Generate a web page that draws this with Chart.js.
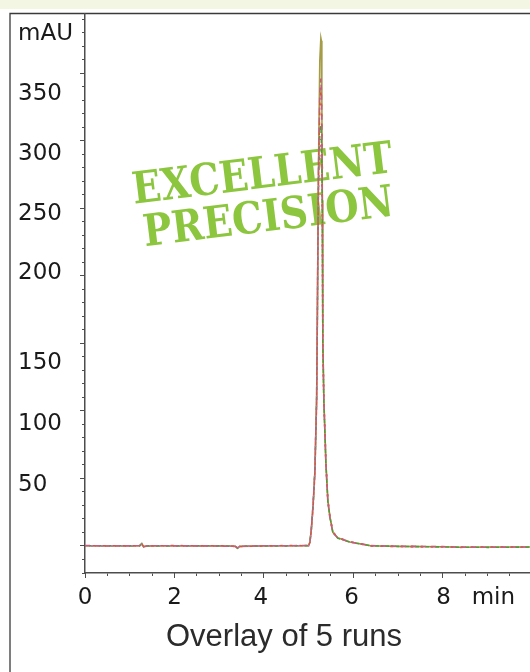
<!DOCTYPE html>
<html><head><meta charset="utf-8">
<script src="https://cdn.jsdelivr.net/npm/chart.js@4.4.1/dist/chart.umd.min.js"></script>
<style>html,body{margin:0;padding:0;background:#fff;overflow:hidden}#wrap{width:530px;height:672px;position:relative}</style>
</head><body><div id="wrap"><canvas id="c" width="530" height="672"></canvas></div>
<script>
// ---- data ----
const time = [0, 0.5, 1.0, 1.22, 1.27, 1.31, 1.4, 2.0, 2.5, 3.0, 3.36, 3.41, 3.46, 4.0, 4.5, 5.0,
  5.03, 5.06, 5.10, 5.14, 5.18, 5.20, 5.22, 5.25, 5.274, 5.285, 5.296, 5.307, 5.318, 5.341, 5.363, 5.386,
  5.43, 5.475, 5.542, 5.65, 5.92, 6.06, 6.25, 6.39, 7.0, 8.0, 8.4, 9.0, 9.95];
const run1 = [0.2, 0.1, 0.2, 0.3, 1.8, -0.6, 0.1, 0.2, 0.0, 0.1, -0.2, -1.6, -0.3, 0.1, 0.2, 0.3,
  3, 12, 30, 55, 110, 190, 280, 359, 376, 374, 329, 256, 152, 108, 86, 62,
  34, 22, 10, 6, 3, 2.2, 1.0, 0.2, -0.3, -0.6, -0.9, -0.8, -0.8];
const run2 = [0.3, 0.0, 0.1, 0.2, 1.5, -0.4, 0.2, 0.1, 0.1, 0.0, -0.3, -1.4, -0.2, 0.2, 0.1, 0.4,
  3.2, 12.5, 31, 56, 111, 191, 275, 335, 346, 338, 310, 250, 150, 107, 85, 61,
  33, 21, 10, 6, 3, 2.1, 1.1, 0.3, -0.2, -0.5, -0.8, -0.9, -0.7];
const run3 = [0.1, 0.2, 0.0, 0.3, 1.6, -0.5, 0.0, 0.3, 0.1, 0.2, -0.1, -1.5, -0.4, 0.0, 0.3, 0.2,
  2.8, 11.5, 29, 54, 109, 188, 272, 328, 338, 331, 305, 247, 151, 108, 86, 62,
  34, 22, 10.5, 6.2, 3.1, 2.3, 0.9, 0.1, -0.4, -0.6, -1.0, -0.8, -0.9];
const run4 = [0.2, 0.2, 0.1, 0.1, 1.7, -0.7, 0.1, 0.0, 0.2, 0.1, -0.2, -1.7, -0.3, 0.1, 0.1, 0.3,
  3.1, 12.2, 30, 55, 110, 187, 268, 305, 312, 300, 285, 240, 149, 106, 85, 61,
  33, 21.5, 10, 5.8, 2.9, 2.0, 1.0, 0.2, -0.3, -0.7, -0.9, -1.0, -0.8];
const run5 = [0.1, 0.1, 0.2, 0.2, 1.4, -0.5, 0.2, 0.2, 0.0, 0.0, -0.2, -1.5, -0.2, 0.2, 0.2, 0.2,
  2.9, 11.8, 29.5, 54, 108, 185, 262, 294, 300, 292, 278, 236, 150, 107, 86, 62,
  34, 22, 10, 6, 3, 2.2, 1.0, 0.2, -0.3, -0.6, -0.9, -0.9, -0.8];
const runNames = ['Run 1', 'Run 2', 'Run 3', 'Run 4', 'Run 5'];

const yLabelText = ['50', '100', '150', '200', '250', '300', '350', 'mAU'];
const yLabelAt   = [45.1, 90.2, 135.2, 201.8, 246.1, 290.5, 334.8, 379.2];
const xLabelText = ['0', '2', '4', '6', '8', 'min'];
const xLabelAt   = [0, 2, 3.93, 5.96, 8.02, 9.13];
const yMajorTicks = [0, 50, 100, 150, 200, 250, 300, 350];
const xMajorTicks = [0, 2, 4, 6, 8];
const yRange = [-20, 394];
const xRange = [0, 9.95];
const titleText = 'Overlay of 5 runs';
const stampLines = ['EXCELLENT', 'PRECISION'];

// ---- styles ----
const runColors = ['#c0607a', '#d0583e', '#c46fb6', '#4f9a3a', '#a59c48'];
const runDash = [[5, 5], [3, 7], [2, 8], [4, 6], []];
const axisColor = '#4d4d4d';
const labelFont = { family: '"DejaVu Sans", Verdana, sans-serif', size: 23 };

const minorY = []; for (let v = -20; v <= 390; v += 10) minorY.push(v);
const minorX = []; for (let v = 0; v <= 9.5; v += 0.5) minorX.push(v);

const series = [run2, run3, run5, run4, run1];
const datasets = series.map((arr, i) => ({
  label: runNames[i],
  data: time.map((t, k) => ({ x: t, y: arr[k] })),
  borderColor: runColors[i],
  borderWidth: 1.6,
  borderDash: runDash[i],
  borderDashOffset: i * 2,
  pointRadius: 0,
  tension: 0,
  fill: false,
  xAxisID: 'x',
  yAxisID: 'y'
}));

const frame = {
  id: 'frame',
  beforeDraw(chart) {
    const c = chart.ctx;
    c.save();
    c.fillStyle = '#ffffff';
    c.fillRect(0, 0, chart.width, chart.height);
    c.fillStyle = '#f3f6e2';
    c.fillRect(0, 0, chart.width, 9);
    c.strokeStyle = '#3a3a3a';
    c.lineWidth = 1.3;
    c.beginPath();
    c.moveTo(10, chart.height); c.lineTo(10, 13.5); c.lineTo(chart.width, 13.5);
    c.stroke();
    c.restore();
  },
  beforeDatasetsDraw(chart) {
    const c = chart.ctx;
    const drawLine = (text, cx, cy, targetW) => {
      c.save();
      c.translate(cx, cy);
      c.rotate(-7 * Math.PI / 180);
      c.font = 'bold 44px "DejaVu Serif", serif';
      const w = c.measureText(text).width;
      c.scale(targetW / w, 1);
      c.textAlign = 'center';
      c.textBaseline = 'alphabetic';
      c.fillStyle = '#8cc63f';
      c.fillText(text, 0, 16);
      c.restore();
    };
    drawLine(stampLines[0], 262, 172, 262);
    drawLine(stampLines[1], 268, 215, 252);
  },
  afterDraw(chart) {
    const c = chart.ctx;
    c.save();
    c.font = '31px "Liberation Sans", Arial, sans-serif';
    c.fillStyle = '#2b2b2b';
    c.textAlign = 'center';
    c.textBaseline = 'middle';
    c.fillText(titleText, 284, 637);
    c.restore();
  }
};

const tickAxis = (pos, ticks, len, border) => ({
  type: 'linear', position: pos, weight: 0,
  min: pos === 'left' ? yRange[0] : xRange[0],
  max: pos === 'left' ? yRange[1] : xRange[1],
  afterBuildTicks: s => { s.ticks = ticks.map(v => ({ value: v })); },
  afterFit: s => { if (pos === 'left') s.width = 0; else s.height = 0; },
  ticks: { display: false },
  grid: { display: true, drawOnChartArea: false, drawTicks: true, tickLength: len, tickColor: axisColor, tickWidth: 1 },
  border: { display: border, color: axisColor, width: 1.5 }
});

new Chart(document.getElementById('c'), {
  type: 'line',
  data: { datasets },
  plugins: [frame],
  options: {
    responsive: false, animation: false, devicePixelRatio: 1,
    layout: { padding: { left: 18, top: 13, right: 0, bottom: 59 } },
    plugins: { legend: { display: false }, tooltip: { enabled: false }, title: { display: false } },
    scales: {
      x: tickAxis('bottom', minorX, 3, true),
      xMajor: tickAxis('bottom', xMajorTicks, 5, false),
      xLabels: {
        type: 'linear', position: 'bottom', weight: 1, min: xRange[0], max: xRange[1],
        afterBuildTicks: s => { s.ticks = xLabelAt.map(v => ({ value: v })); },
        afterFit: s => { s.height = 40; },
        ticks: { autoSkip: false, maxRotation: 0, padding: 11, font: labelFont, color: '#1a1a1a',
          callback: (v) => xLabelText[xLabelAt.indexOf(v)] },
        grid: { display: false, drawTicks: false },
        border: { display: false }
      },
      y: tickAxis('left', minorY, 3, true),
      yMajor: tickAxis('left', yMajorTicks, 5, false),
      yLabels: {
        type: 'linear', position: 'left', weight: 1, min: yRange[0], max: yRange[1],
        afterBuildTicks: s => { s.ticks = yLabelAt.map(v => ({ value: v })); },
        afterFit: s => { s.width = 67; },
        ticks: { autoSkip: false, crossAlign: 'far', padding: 0, font: labelFont, color: '#1a1a1a',
          callback: (v) => yLabelText[yLabelAt.indexOf(v)] },
        grid: { display: false, drawTicks: false },
        border: { display: false }
      }
    }
  }
});
</script>
</body></html>
